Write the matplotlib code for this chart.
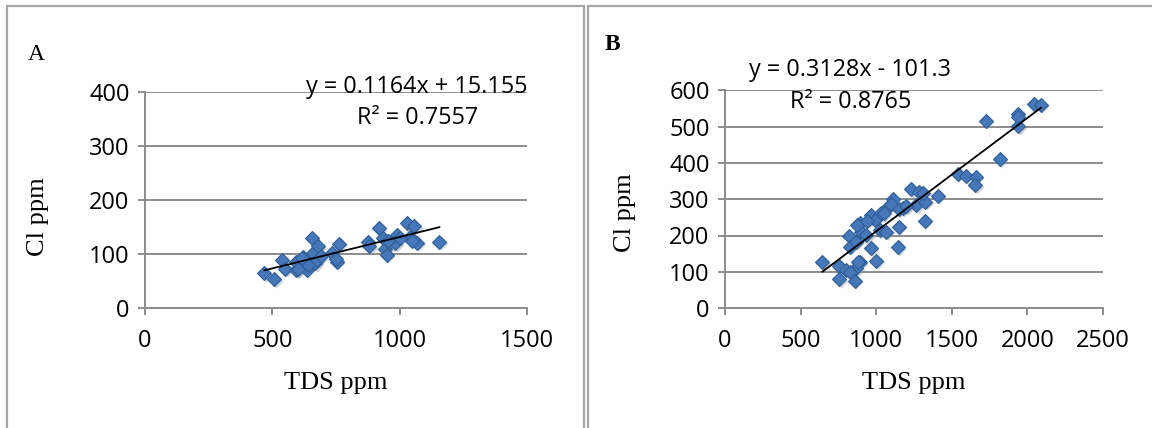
import matplotlib
matplotlib.use("Agg")
import matplotlib.pyplot as plt
from matplotlib.patches import Rectangle
from matplotlib.transforms import ScaledTranslation
import numpy as np

# Panel A: TDS vs Cl (ppm)
tds_a = [469, 507, 537, 550, 593, 594, 622, 635, 655, 661, 668, 681, 674, 733, 753,
         763, 877, 881, 917, 934, 943, 950, 982, 989, 1028, 1041, 1057, 1070, 1156,
         750, 640, 600, 955, 1050, 1000, 615, 690]
cl_a = [64, 53, 89, 73, 70, 86, 95, 71, 129, 101, 83, 114, 89, 101, 86,
        119, 123, 114, 148, 129, 110, 99, 120, 135, 157, 132, 151, 121, 123,
        90, 80, 72, 125, 125, 130, 92, 96]
slope_a, icpt_a = 0.1164, 15.155
eq_a = "y = 0.1164x + 15.155"
r2_a = "R² = 0.7557"

# Panel B
tds_b = [644, 754, 757, 803, 857, 890, 869, 1000, 820, 824, 869, 890, 901, 935, 963,
         963, 989, 1022, 1034, 1066, 1077, 1110, 1099, 1148, 1144, 1176, 1231, 1264,
         1286, 1326, 1321, 1407, 1539, 1594, 1660, 1654, 1726, 1818, 1935, 1941, 2045,
         2089, 1935, 870, 940, 1050, 1150, 1200, 830, 880, 1310]
cl_b = [126, 80, 116, 105, 75, 126, 110, 130, 200, 169, 183, 234, 211, 201, 165,
        256, 243, 215, 261, 211, 279, 302, 287, 224, 168, 275, 327, 284,
        321, 293, 241, 310, 371, 364, 362, 339, 516, 410, 536, 501, 563,
        561, 528, 228, 240, 262, 272, 280, 100, 128, 318]
slope_b, icpt_b = 0.3128, -101.3
eq_b = "y = 0.3128x - 101.3"
r2_b = "R² = 0.8765"

W, H = 1152, 428
fig = plt.figure(figsize=(W / 100, H / 100), dpi=100)

sans = "Open Sans"
serif = "Liberation Serif"
grey = "#8c8c8c"
blue = "#4677b8"


def fx(px):
    return px / W


def fy(py):
    return 1 - py / H


# frames around the two panels
for x0, x1 in [(7, 584), (588, 1160)]:
    fig.patches.append(Rectangle((fx(x0), fy(440)), fx(x1 - x0), (440 - 6) / H,
                                 transform=fig.transFigure, fill=False,
                                 edgecolor="#a6a6a6", linewidth=1.6))


def panel(rect, x, y, slope, icpt, xmax, ymax, ystep):
    ax = fig.add_axes(rect)
    ax.set_xlim(0, xmax)
    ax.set_ylim(0, ymax)
    ax.set_xticks(np.arange(0, xmax + 1, 500))
    ax.set_yticks(np.arange(0, ymax + 1, ystep))
    ax.grid(axis="y", color=grey, linewidth=1.4)
    ax.set_axisbelow(True)
    for s in ["top", "right"]:
        ax.spines[s].set_visible(False)
    for s in ["left", "bottom"]:
        ax.spines[s].set_color(grey)
        ax.spines[s].set_linewidth(1.4)
    ax.tick_params(direction="out", length=5, width=1.4, color=grey,
                   labelsize=17, pad=6)
    for lbl in ax.get_xticklabels() + ax.get_yticklabels():
        lbl.set_fontfamily(sans)
    ax.tick_params(axis="x", pad=10)
    xs = np.array(x)
    ys = np.array(y)
    # soft shadow under the markers
    shift = ax.transData + ScaledTranslation(1.5 / 100, -1.5 / 100, fig.dpi_scale_trans)
    ax.plot(xs, ys, linestyle="none", marker="D", markersize=7.4,
            markerfacecolor="#9aa0a8", markeredgecolor="none", alpha=0.45,
            transform=shift, zorder=2)
    ax.plot(xs, ys, linestyle="none", marker="D", markersize=7.4,
            markerfacecolor=blue, markeredgecolor="#2f5d96", markeredgewidth=0.8,
            zorder=3)
    lx = np.array([xs.min(), xs.max()])
    ax.plot(lx, slope * lx + icpt, color="black", linewidth=1.3, zorder=4)
    return ax


ax_a = panel([fx(145), fy(308), fx(527 - 145), (308 - 92) / H],
             tds_a, cl_a, slope_a, icpt_a, 1500, 400, 100)
ax_b = panel([fx(725), fy(308), fx(1103 - 725), (308 - 90.5) / H],
             tds_b, cl_b, slope_b, icpt_b, 2500, 600, 100)

# trendline labels
fig.text(fx(306), fy(87), eq_a, family=sans, fontsize=16.8, va="center", ha="left")
fig.text(fx(357), fy(118), r2_a, family=sans, fontsize=16.8, va="center", ha="left")
fig.text(fx(749), fy(70), eq_b, family=sans, fontsize=16.8, va="center", ha="left")
fig.text(fx(790), fy(102), r2_b, family=sans, fontsize=16.8, va="center", ha="left")

# axis titles
fig.text(fx(336), fy(383), "TDS ppm", family=serif, fontsize=19, ha="center", va="center")
fig.text(fx(914), fy(383), "TDS ppm", family=serif, fontsize=19, ha="center", va="center")
fig.text(fx(38), fy(217), "Cl ppm", family=serif, fontsize=19, ha="center", va="center", rotation=90)
fig.text(fx(625), fy(213), "Cl ppm", family=serif, fontsize=19, ha="center", va="center", rotation=90)

# panel letters
fig.text(fx(36), fy(55), "A", family=serif, fontsize=17, ha="center", va="center")
fig.text(fx(612), fy(45), "B", family=serif, fontsize=17, fontweight="bold", ha="center", va="center")

fig.savefig("out.png", dpi=100)
